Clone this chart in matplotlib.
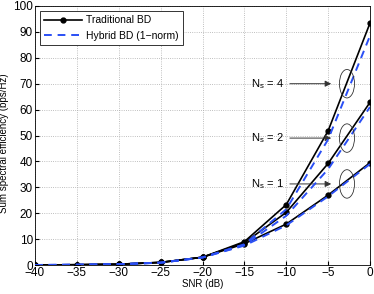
import matplotlib
matplotlib.use("Agg")
import matplotlib.pyplot as plt
from matplotlib.patches import Ellipse

snr = [-40, -35, -30, -25, -20, -15, -10, -5, 0]
trad_ns4 = [0, 0.1, 0.3, 1.0, 3.0, 9.0, 23.3, 51.8, 93.4]
trad_ns2 = [0, 0.1, 0.3, 1.0, 3.0, 8.6, 20.3, 39.2, 62.8]
trad_ns1 = [0, 0.1, 0.3, 1.0, 3.0, 8.2, 15.8, 27.0, 39.5]
hyb_ns4 = [0, 0.1, 0.3, 0.9, 2.9, 8.0, 21.5, 48.5, 88.5]
hyb_ns2 = [0, 0.1, 0.3, 0.9, 2.9, 7.7, 19.0, 37.0, 61.0]
hyb_ns1 = [0, 0.1, 0.3, 0.9, 2.9, 7.5, 15.3, 26.5, 39.0]

ns_labels = [r'$\mathregular{N_s}$ = 4', r'$\mathregular{N_s}$ = 2', r'$\mathregular{N_s}$ = 1']
ns_y = [70, 49, 31.3]

plt.rcParams['font.family'] = 'Liberation Sans'
fig = plt.figure(figsize=(3.74, 2.94), dpi=100)
ax = fig.add_axes([35/374, 1 - 265/294, 335/374, 259/294])

for i, (t, h) in enumerate(zip([trad_ns4, trad_ns2, trad_ns1], [hyb_ns4, hyb_ns2, hyb_ns1])):
    ax.plot(snr, t, 'k-', marker='o', ms=3.5, lw=1.2,
            label='Traditional BD' if i == 0 else None, zorder=3)
    ax.plot(snr, h, '--', color='#2a4ff5', lw=1.4, dashes=(4, 3),
            label='Hybrid BD (1\u2212norm)' if i == 0 else None, zorder=4)

for lab, y in zip(ns_labels, ns_y):
    ax.text(-12.2, y, lab, fontsize=8, ha='center', va='center')
    ax.annotate('', xy=(-4.3, y), xytext=(-9.9, y),
                arrowprops=dict(arrowstyle='-|>', color='#333333', lw=0.7,
                                mutation_scale=9))
    ax.add_patch(Ellipse((-2.75, y), 1.8, 11, fill=False, ec='#333333', lw=0.6, zorder=5))

ax.set_xlim(-40, 0)
ax.set_ylim(0, 100)
ax.set_xticks(range(-40, 1, 5))
ax.set_yticks(range(0, 101, 10))
ax.set_xticklabels(['\u221240', '\u221235', '\u221230', '\u221225', '\u221220',
                    '\u221215', '\u221210', '\u22125', '0'])
ax.tick_params(labelsize=8.5, direction='in', length=3, pad=1.5)
ax.grid(True, linestyle=':', color='#aaaaaa', lw=0.6)
ax.set_xlabel('SNR (dB)', fontsize=7, labelpad=0)
ax.set_ylabel('Sum spectral efficiency (bps/Hz)', fontsize=7)
ax.yaxis.set_label_coords(-0.078, 0.47)
for s in ax.spines.values():
    s.set_linewidth(0.6)

leg = ax.legend(loc='upper left', fontsize=7.5, fancybox=False, edgecolor='#333333',
                handlelength=3.6, handletextpad=0.4, borderaxespad=0.5, framealpha=1,
                bbox_to_anchor=(0.0, 1.0))
leg.get_frame().set_linewidth(0.7)

fig.savefig('out.png', dpi=100)
